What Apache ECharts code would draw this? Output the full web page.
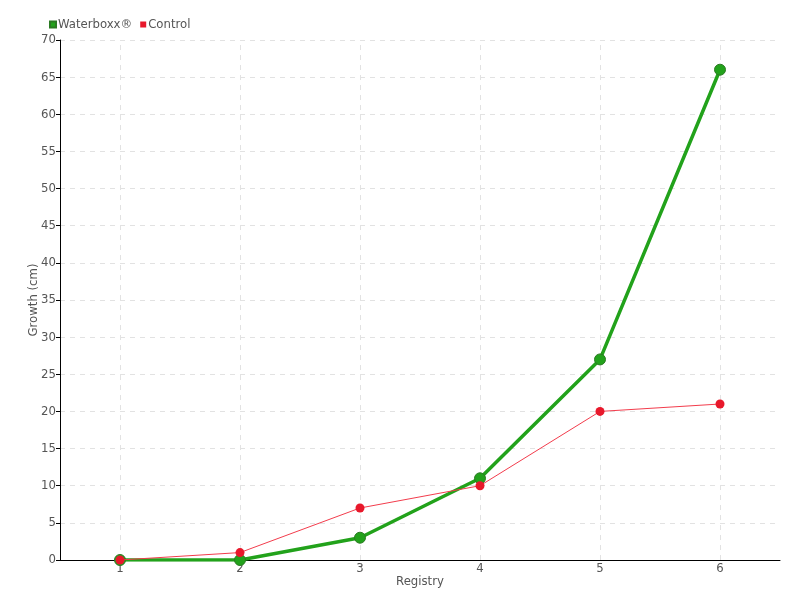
<!DOCTYPE html>
<html>
<head>
<meta charset="utf-8">
<script src="https://cdn.jsdelivr.net/npm/echarts@6/dist/echarts.min.js"></script>
<style>
  html, body { margin: 0; padding: 0; background: #fff; }
  #chart { width: 800px; height: 600px; }
</style>
</head>
<body>
<div id="chart"></div>
<script>
  // registry number (x) and growth in cm
  const registry = ['1', '2', '3', '4', '5', '6'];
  const waterboxx = [0, 0, 3, 11, 27, 66];
  const control = [0, 1, 7, 10, 20, 21];

  const font = '"DejaVu Sans Condensed", "Liberation Sans Narrow", "Liberation Sans", sans-serif';
  const gridLine = { color: '#e2e2e2', type: [5, 5], width: 1 };
  const chart = echarts.init(document.getElementById('chart'));

  chart.setOption({
    animation: false,
    textStyle: { fontFamily: font },
    legend: {
      left: 44,
      top: 13,
      itemWidth: 6,
      itemHeight: 6,
      itemGap: 8,
      icon: 'rect',
      textStyle: { color: '#555', fontSize: 13, fontFamily: font, padding: [0, 0, 0, -3] },
      data: ['Waterboxx®', 'Control']
    },
    grid: { left: 60, right: 20, top: 40, bottom: 40 },
    xAxis: {
      type: 'category',
      data: registry,
      boundaryGap: true,
      name: 'Registry',
      nameLocation: 'middle',
      nameGap: 15,
      nameMoveOverlap: false,
      nameTextStyle: { color: '#555', fontSize: 13, fontFamily: font },
      axisLine: { lineStyle: { color: '#000', width: 1 } },
      axisTick: { show: false },
      axisLabel: { color: '#555', fontSize: 13, fontFamily: font, margin: 2 },
      splitLine: { show: false }
    },
    yAxis: {
      type: 'value',
      min: 0,
      max: 70,
      interval: 5,
      name: 'Growth (cm)',
      nameLocation: 'middle',
      nameGap: 20,
      nameMoveOverlap: false,
      nameTextStyle: { color: '#555', fontSize: 13, fontFamily: font },
      axisLine: { show: true, lineStyle: { color: '#000', width: 1 } },
      axisTick: { show: true, length: 4, lineStyle: { color: '#000' } },
      axisLabel: { color: '#555', fontSize: 13, fontFamily: font, margin: 4 },
      splitLine: { show: true, lineStyle: gridLine }
    },
    series: [
      {
        // vertical grid lines at each registry
        name: 'grid',
        type: 'line',
        data: [],
        z: 0,
        silent: true,
        markLine: {
          silent: true,
          z: 0,
          symbol: 'none',
          label: { show: false },
          lineStyle: gridLine,
          data: registry.map(r => ({ xAxis: r }))
        }
      },
      {
        name: 'Waterboxx®',
        type: 'line',
        data: waterboxx,
        symbol: 'circle',
        symbolSize: 11,
        z: 2,
        itemStyle: { color: '#22a21b', borderColor: '#2a7a22', borderWidth: 1 },
        lineStyle: { color: '#22a21b', width: 3.5 }
      },
      {
        name: 'Control',
        type: 'line',
        data: control,
        symbol: 'circle',
        symbolSize: 9,
        z: 3,
        itemStyle: { color: '#e8182b' },
        lineStyle: { color: '#f23c4c', width: 1 }
      }
    ]
  });
</script>
</body>
</html>
